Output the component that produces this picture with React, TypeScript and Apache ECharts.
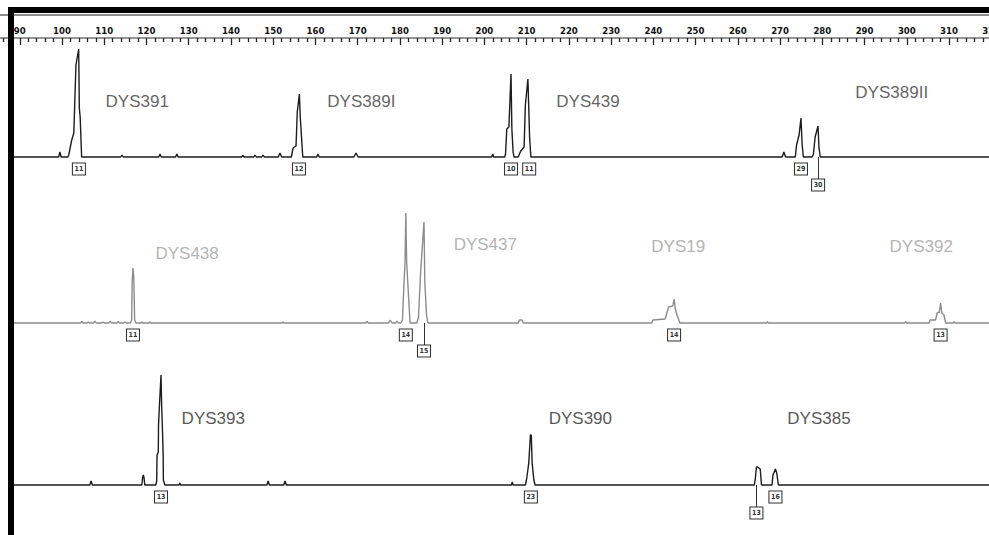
import React, { useEffect, useRef } from "react";
import * as echarts from "echarts";

// fragment size axis (bp)
const X_MIN = 80;
const X_MAX = 320;
const RULER_STEP = 10;

// trace data: [size in bp, height]
const topTrace: number[][] = [
  [88, 0],
  [99.2, 0], [99.5, 5], [99.8, 0],
  [101.4, 0], [101.6, 2], [102.3, 17], [102.8, 24], [103.3, 92], [103.95, 108], [104.1, 49], [104.3, 40], [104.65, 0],
  [113.9, 0], [114.2, 2], [114.5, 0],
  [122.9, 0], [123.2, 3], [123.5, 0],
  [126.9, 0], [127.2, 3], [127.5, 0],
  [142.5, 0], [142.8, 1.5], [143.1, 0],
  [145.4, 0], [145.7, 2], [146.0, 0],
  [147.3, 0], [147.6, 2], [147.9, 0],
  [151.2, 0], [151.6, 4], [152.0, 0],
  [154.3, 0], [154.7, 9], [155.4, 11], [155.7, 45], [156.2, 63], [156.4, 40], [156.7, 20], [157.0, 0],
  [160.3, 0], [160.6, 3], [160.9, 0],
  [169.1, 0], [169.6, 4], [170.1, 0],
  [201.7, 0], [202.0, 3], [202.2, 0],
  [204.8, 0], [205.0, 3], [205.3, 28], [205.8, 30], [206.3, 83], [206.5, 28], [206.8, 5], [207.0, 0],
  [208.0, 0], [208.6, 6], [209.4, 10], [209.7, 52], [210.3, 78], [210.7, 20], [211.0, 0],
  [270.5, 0], [270.9, 5], [271.3, 0],
  [273.6, 0], [273.9, 12], [274.5, 22], [274.95, 39], [275.2, 14], [275.5, 0],
  [277.6, 0], [277.9, 3], [278.3, 20], [278.98, 31], [279.2, 10], [279.5, 0],
  [320, 0],
];

const midTrace: number[][] = [
  [88, 0],
  [104.4, 0], [104.7, 1.5], [105.0, 0],
  [105.9, 0], [106.2, 1], [106.5, 0],
  [107.5, 0], [107.8, 2], [108.1, 0],
  [109.4, 0], [109.7, 1], [110.0, 0],
  [111.1, 0], [111.4, 2], [111.7, 0],
  [113.0, 0], [113.3, 1.5], [113.6, 0],
  [114.6, 0], [114.9, 1], [115.2, 0],
  [116.2, 0], [116.5, 3], [116.6, 40], [116.8, 55], [117.0, 45], [117.2, 3], [117.5, 0],
  [118.7, 0], [118.9, 1], [119.1, 0],
  [120.6, 0], [120.8, 1], [121.0, 0],
  [152.1, 0], [152.3, 1], [152.5, 0],
  [171.9, 0], [172.2, 1.5], [172.5, 0],
  [177.3, 0], [177.7, 3], [178.1, 0],
  [179.0, 0], [179.3, 2], [179.6, 0],
  [180.2, 0], [180.6, 3], [180.9, 34], [181.2, 60], [181.4, 110], [181.6, 60], [182.0, 30], [182.4, 0],
  [184.0, 0], [184.4, 6], [184.9, 51], [185.7, 101], [185.9, 40], [186.3, 8], [186.6, 0],
  [208.0, 0], [208.3, 3], [208.9, 3], [209.2, 0],
  [239.6, 0], [239.9, 3], [242.8, 4], [243.2, 10], [243.6, 16], [244.6, 17], [244.9, 24], [245.2, 14], [245.6, 8], [246.3, 0],
  [266.8, 0], [267.0, 1.5], [267.2, 0],
  [299.5, 0], [299.7, 1.5], [299.9, 0],
  [305.3, 0], [305.5, 3], [306.8, 3], [307.2, 10], [307.7, 11], [308.0, 20], [308.3, 10], [308.8, 8], [309.2, 0],
  [311.0, 0], [311.2, 1.5], [311.4, 0],
  [320, 0],
];

const botTrace: number[][] = [
  [88, 0],
  [106.6, 0], [106.9, 4], [107.2, 0],
  [118.9, 0], [119.1, 8], [119.25, 10], [119.4, 8], [119.6, 0],
  [122.2, 0], [122.42, 4], [122.5, 30], [122.8, 33], [122.85, 60], [123.05, 78], [123.44, 110], [123.6, 78], [123.75, 60], [123.95, 30], [124.0, 5], [124.35, 0],
  [127.7, 0], [127.9, 2], [128.1, 0],
  [148.5, 0], [148.8, 4], [149.1, 0],
  [152.5, 0], [152.8, 4], [153.1, 0],
  [206.4, 0], [206.6, 3], [206.8, 0],
  [209.7, 0], [210.0, 6], [210.5, 22], [210.9, 50], [211.1, 50], [211.3, 22], [211.7, 5], [212.0, 0],
  [263.9, 0], [264.1, 5], [264.4, 18], [264.7, 18], [265.3, 16], [265.6, 0],
  [268.1, 0], [268.3, 10], [268.9, 16], [269.2, 12], [269.6, 0],
  [320, 0],
];

// allele call boxes: [size, allele, row]
const topAlleles: [number, string, number][] = [
  [104.0, "11", 1], [156.1, "12", 1], [206.3, "10", 1], [210.6, "11", 1], [274.95, "29", 1], [279.0, "30", 2],
];
const midAlleles: [number, string, number][] = [
  [116.8, "11", 1], [181.4, "14", 1], [185.7, "15", 2], [244.9, "14", 1], [308.0, "13", 1],
];
const botAlleles: [number, string, number][] = [
  [123.44, "13", 1], [211.0, "23", 1], [264.4, "13", 2], [268.9, "16", 1],
];

// locus names: [name, size at left edge, height of text centre]
const topLoci: [string, number, number][] = [
  ["DYS391", 110.2, 56], ["DYS389I", 162.7, 56], ["DYS439", 216.9, 56], ["DYS389II", 287.7, 65],
];
const midLoci: [string, number, number][] = [
  ["DYS438", 122.0, 70], ["DYS437", 192.6, 79], ["DYS19", 239.4, 77], ["DYS392", 295.8, 77],
];
const botLoci: [string, number, number][] = [
  ["DYS393", 128.2, 67], ["DYS390", 215.1, 67], ["DYS385", 271.6, 67],
];

const Y_MIN = -40;
const Y_MAX = 117;
const BOX_ROW_Y = [0, -12, -28];

const GRID_LEFT = -22.48;
const GRID_RIGHT = -2.28;

const panels = [
  { top: 40, trace: topTrace, alleles: topAlleles, loci: topLoci, color: "#1c1c1c", labelColor: "#3a3a3a" },
  { top: 206, trace: midTrace, alleles: midAlleles, loci: midLoci, color: "#8c8c8c", labelColor: "#a0a0a0" },
  { top: 368, trace: botTrace, alleles: botAlleles, loci: botLoci, color: "#1c1c1c", labelColor: "#2a2a2a" },
];

function buildOption() {
  const grid: any[] = [
    {
      left: GRID_LEFT, right: GRID_RIGHT, top: 15, height: 23,
      show: true, borderColor: "#666", borderWidth: 1.5, backgroundColor: "#fff",
      outerBoundsMode: "none",
    },
  ];
  const xAxis: any[] = [
    {
      type: "value", gridIndex: 0, position: "top", min: X_MIN, max: X_MAX, interval: RULER_STEP,
      axisLine: { show: true, lineStyle: { color: "#999", width: 1.5 } },
      axisTick: { show: true, inside: true, length: 7, lineStyle: { color: "#222", width: 1.3 } },
      minorTick: { show: true, splitNumber: 5, length: 4, lineStyle: { color: "#222", width: 1.3 } },
      axisLabel: {
        show: true, inside: true, margin: 10, fontSize: 9.5, fontWeight: "bold",
        color: "#111", fontFamily: "DejaVu Sans Condensed", hideOverlap: false,
        showMinLabel: false, showMaxLabel: true,
        formatter: (v: number) => (v <= X_MIN ? "" : String(v)),
      },
      splitLine: { show: false },
    },
  ];
  const yAxis: any[] = [{ type: "value", gridIndex: 0, show: false, min: 0, max: 1 }];
  const series: any[] = [];

  panels.forEach((p, i) => {
    const gi = i + 1;
    grid.push({ left: GRID_LEFT, right: GRID_RIGHT, top: p.top, height: Y_MAX - Y_MIN, outerBoundsMode: "none" });
    xAxis.push({ type: "value", gridIndex: gi, min: X_MIN, max: X_MAX, show: false });
    yAxis.push({ type: "value", gridIndex: gi, min: Y_MIN, max: Y_MAX, show: false });

    series.push({
      type: "line", xAxisIndex: gi, yAxisIndex: gi, data: p.trace,
      showSymbol: false, symbol: "none", silent: true,
      lineStyle: { color: p.color, width: 1.4 }, z: 2,
    });

    series.push({
      type: "scatter", xAxisIndex: gi, yAxisIndex: gi,
      data: p.alleles.map(([x, a, row]) => ({ value: [x, BOX_ROW_Y[row]], name: a })),
      symbol: "rect", symbolSize: [13, 12],
      itemStyle: { color: "#fff", borderColor: "#333", borderWidth: 1, opacity: 1 },
      label: {
        show: true, position: "inside", formatter: "{b}", fontSize: 7, fontWeight: "bold",
        color: "#333", fontFamily: "DejaVu Sans Condensed",
      },
      markLine: {
        silent: true, symbol: "none", animation: false,
        lineStyle: { color: "#333", width: 1, type: "solid" },
        label: { show: false },
        data: p.alleles
          .filter(([, , row]) => row === 2)
          .map(([x]) => [{ coord: [x, 0] }, { coord: [x, BOX_ROW_Y[2] + 6] }]),
      },
      z: 4,
    });

    series.push({
      type: "scatter", xAxisIndex: gi, yAxisIndex: gi,
      data: p.loci.map(([n, x, y]) => ({ value: [x, y], name: n })),
      symbol: "circle", symbolSize: 1, itemStyle: { color: "rgba(0,0,0,0)" },
      label: {
        show: true, position: "right", distance: 0, formatter: "{b}",
        fontSize: 17, color: p.labelColor, fontFamily: "Liberation Sans",
      },
      z: 5,
    });
  });

  return {
    animation: false,
    backgroundColor: "#fff",
    grid, xAxis, yAxis, series,
    graphic: [
      { type: "rect", left: 8, top: 7, shape: { width: 981, height: 6 }, style: { fill: "#000" }, z: 100 },
      { type: "rect", left: 8, top: 7, shape: { width: 6, height: 528 }, style: { fill: "#000" }, z: 100 },
    ],
  };
}

export default function App() {
  const ref = useRef<HTMLDivElement>(null);
  useEffect(() => {
    const chart = echarts.init(ref.current!, null, { renderer: "svg" });
    chart.setOption(buildOption() as any);
    return () => chart.dispose();
  }, []);
  return (
    <div
      ref={ref}
      style={{ position: "absolute", left: 0, top: 0, width: 989, height: 535, background: "#fff" }}
    />
  );
}
